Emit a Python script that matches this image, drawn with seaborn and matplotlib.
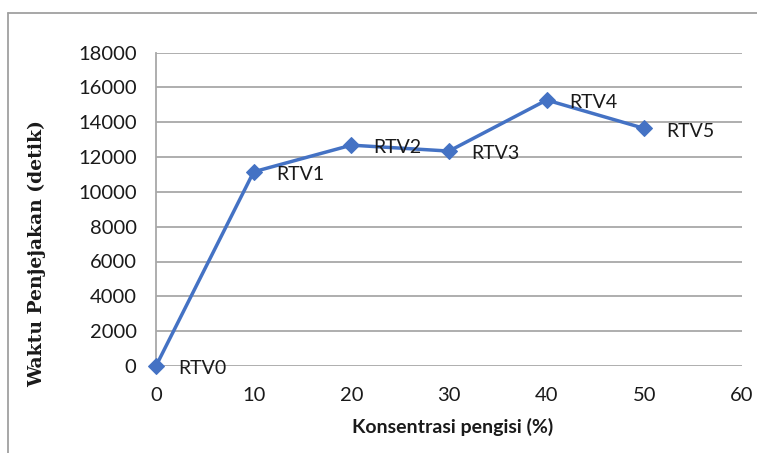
import matplotlib
matplotlib.use("Agg")
import matplotlib.pyplot as plt
import seaborn as sns
import pandas as pd
from matplotlib.lines import Line2D

konsentrasi = [0, 10, 20, 30, 40, 50]
waktu = [0, 11150, 12680, 12340, 15270, 13640]
labels = ["RTV0", "RTV1", "RTV2", "RTV3", "RTV4", "RTV5"]
x_ticks = [0, 10, 20, 30, 40, 50, 60]
y_ticks = [0, 2000, 4000, 6000, 8000, 10000, 12000, 14000, 16000, 18000]

df = pd.DataFrame({"x": konsentrasi, "y": waktu, "label": labels})

sns.set_theme(style="white")
plt.rcParams["font.family"] = ["Lato", "DejaVu Sans"]

W, H = 757, 453
fig = plt.figure(figsize=(W / 100, H / 100), dpi=100)
ax = fig.add_axes([156 / W, 1 - 366 / H, (742 - 156) / W, (366 - 52.5) / H])

color = "#4472C4"
sns.lineplot(data=df, x="x", y="y", ax=ax, color=color, linewidth=2.5,
             marker="D", markersize=8, markeredgecolor=color, zorder=3,
             clip_on=False)

for xv, yv, lab in zip(df["x"], df["y"], df["label"]):
    ax.annotate(lab, (xv, yv), xytext=(16, -2), textcoords="offset points",
                ha="left", va="center", fontsize=14, color="#1a1a1a")

ax.set_xlim(0, 60)
ax.set_ylim(0, 18000)
ax.set_xticks(x_ticks)
ax.set_yticks(y_ticks)
ax.set_xticklabels([str(v) for v in x_ticks])
ax.set_yticklabels([str(v) for v in y_ticks])
ax.tick_params(axis="both", length=0, labelsize=14.5, colors="#1a1a1a")
ax.tick_params(axis="y", pad=14)
ax.tick_params(axis="x", pad=15)
ax.grid(axis="y", color="#a8a8a8", linewidth=1.3)
ax.set_axisbelow(True)
for s in ["top", "right", "bottom"]:
    ax.spines[s].set_visible(False)
ax.spines["left"].set_color("#a8a8a8")
ax.spines["left"].set_linewidth(1.3)

ax.set_xlabel("")
ax.set_ylabel("")
fig.text(453 / W, 1 - 427 / H, "Konsentrasi pengisi (%)", fontsize=14,
         fontweight="bold", color="#1a1a1a", ha="center", va="center")
fig.text(37 / W, 1 - 254 / H, "Waktu Penjejakan (detik)", fontsize=13.5,
         fontweight="bold", family=["DejaVu Serif"], color="#1a1a1a",
         ha="center", va="center", rotation=90)

# outer chart frame (left and top edges visible)
fig.add_artist(Line2D([8 / W, 8 / W], [0, 1 - 13 / H], transform=fig.transFigure,
                      color="#a0a0a0", linewidth=1.3))
fig.add_artist(Line2D([8 / W, 1], [1 - 13 / H, 1 - 13 / H], transform=fig.transFigure,
                      color="#a0a0a0", linewidth=1.3))

fig.savefig("out.png", dpi=100)
